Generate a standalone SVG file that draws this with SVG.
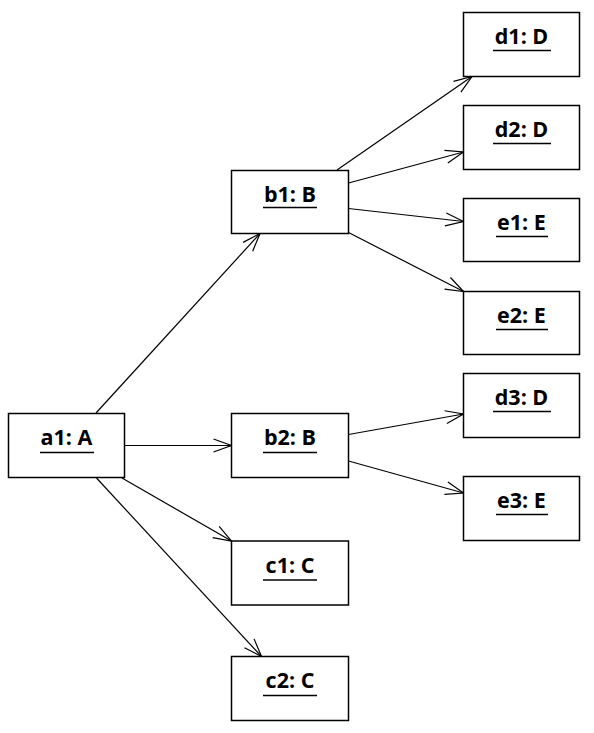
<svg xmlns="http://www.w3.org/2000/svg" width="594" height="733" viewBox="0 0 594 733">
<style>
.box{fill:#fff;stroke:#000;stroke-width:1.5}
.lbl{font-family:"Open Sans","Noto Sans","Liberation Sans",sans-serif;font-weight:bold;font-size:21.5px;text-anchor:middle;fill:#000}
.ul{stroke:#000;stroke-width:1.5}
.conn{stroke:#000;stroke-width:1.2;fill:none;marker-end:url(#arr)}
</style>
<defs>
<marker id="arr" markerUnits="userSpaceOnUse" viewBox="-20 -10 22 20" refX="0" refY="0" markerWidth="22" markerHeight="20" orient="auto">
<path d="M-18,-6.5 L0,0 L-18,6.5" fill="none" stroke="#000" stroke-width="1.2"/>
</marker>
</defs>
<rect width="594" height="733" fill="#fff"/>
<g id="connectors">
<line class="conn" x1="96" y1="413" x2="260" y2="233.5"/>
<line class="conn" x1="124.5" y1="445.5" x2="231.5" y2="445.5"/>
<line class="conn" x1="122" y1="478" x2="231.5" y2="541"/>
<line class="conn" x1="96.5" y1="478" x2="261.5" y2="656.5"/>
<line class="conn" x1="337" y1="170" x2="472" y2="76.5"/>
<line class="conn" x1="348.5" y1="183" x2="463.5" y2="152"/>
<line class="conn" x1="348.5" y1="208.5" x2="463.5" y2="221.5"/>
<line class="conn" x1="348.5" y1="232.5" x2="463.5" y2="291.5"/>
<line class="conn" x1="348.5" y1="434.5" x2="463.5" y2="414"/>
<line class="conn" x1="348.5" y1="461" x2="463.5" y2="493"/>
</g>
<g id="a1"><rect class="box" x="8.5" y="413.5" width="116" height="64"/><text class="lbl" x="66.5" y="444.5">a1: A</text><line class="ul" x1="40" y1="452.5" x2="94" y2="452.5"/></g>
<g id="b1"><rect class="box" x="231.5" y="170.5" width="117" height="63"/><text class="lbl" x="290" y="201.5">b1: B</text><line class="ul" x1="263" y1="207.5" x2="317" y2="207.5"/></g>
<g id="b2"><rect class="box" x="231.5" y="413.5" width="117" height="64"/><text class="lbl" x="290" y="444.5">b2: B</text><line class="ul" x1="263" y1="452.5" x2="317" y2="452.5"/></g>
<g id="c1"><rect class="box" x="231.5" y="541" width="117" height="64"/><text class="lbl" x="290" y="572.5">c1: C</text><line class="ul" x1="263" y1="580" x2="317" y2="580"/></g>
<g id="c2"><rect class="box" x="231.5" y="656.5" width="117" height="64"/><text class="lbl" x="290" y="687.5">c2: C</text><line class="ul" x1="263" y1="695.5" x2="317" y2="695.5"/></g>
<g id="d1"><rect class="box" x="463.5" y="12.5" width="116" height="64"/><text class="lbl" x="521.5" y="43.5">d1: D</text><line class="ul" x1="493" y1="50.5" x2="551" y2="50.5"/></g>
<g id="d2"><rect class="box" x="463.5" y="105.5" width="116" height="64"/><text class="lbl" x="521.5" y="136.5">d2: D</text><line class="ul" x1="493" y1="143.5" x2="551" y2="143.5"/></g>
<g id="e1"><rect class="box" x="463.5" y="198.5" width="116" height="63"/><text class="lbl" x="521.5" y="229.5">e1: E</text><line class="ul" x1="496" y1="236.5" x2="548" y2="236.5"/></g>
<g id="e2"><rect class="box" x="463.5" y="291.5" width="116" height="63"/><text class="lbl" x="521.5" y="322.5">e2: E</text><line class="ul" x1="496" y1="329.5" x2="548" y2="329.5"/></g>
<g id="d3"><rect class="box" x="463.5" y="373.5" width="116" height="64"/><text class="lbl" x="521.5" y="404.5">d3: D</text><line class="ul" x1="493" y1="411.5" x2="551" y2="411.5"/></g>
<g id="e3"><rect class="box" x="463.5" y="476.5" width="116" height="64"/><text class="lbl" x="521.5" y="507.5">e3: E</text><line class="ul" x1="496" y1="514.5" x2="548" y2="514.5"/></g>
</svg>
